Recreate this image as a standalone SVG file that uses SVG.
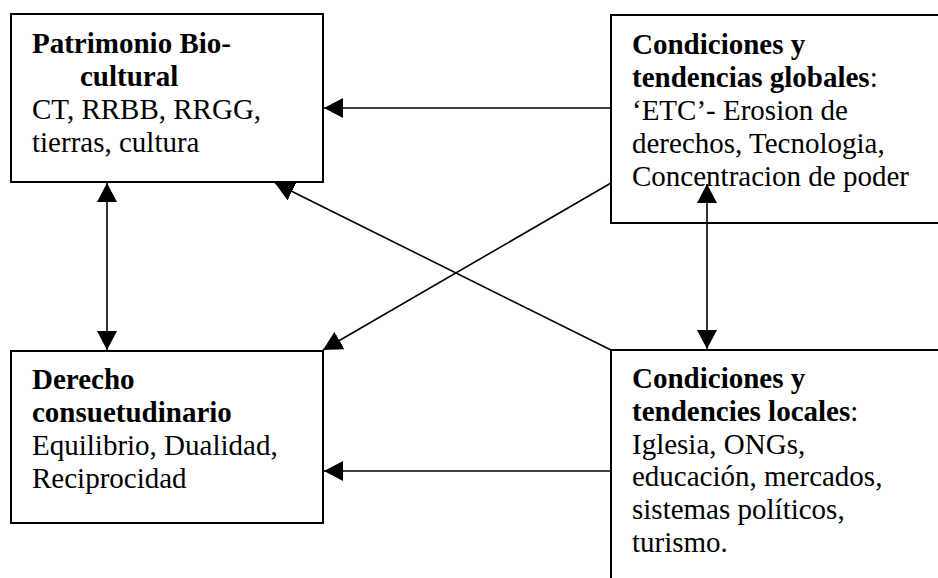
<svg xmlns="http://www.w3.org/2000/svg" width="938" height="578" viewBox="0 0 938 578">
<defs>
<style>
.box{fill:#fff;stroke:#000;stroke-width:2}
.t{font-family:"Liberation Serif","Times New Roman",serif;font-size:29px;fill:#000}
.b{font-weight:bold}
.c{stroke:#000;stroke-width:1.6;fill:none}
</style>
<marker id="ah" markerUnits="userSpaceOnUse" markerWidth="20" markerHeight="20" viewBox="0 0 20 20" refX="19" refY="10" orient="auto-start-reverse">
<path d="M0,0 L19,10 L0,20 Z" fill="#000"/>
</marker>
</defs>
<rect width="938" height="578" fill="#fff"/>
<g id="node-patrimonio">
<rect class="box" x="11" y="14" width="312" height="168"/>
<text class="t"><tspan class="b" x="32" y="53">Patrimonio Bio-</tspan><tspan class="b" x="80" y="86">cultural</tspan><tspan x="32" y="119">CT, RRBB, RRGG,</tspan><tspan x="32" y="152">tierras, cultura</tspan></text>
</g>
<g id="node-globales">
<rect class="box" x="611" y="15" width="340" height="208"/>
<text class="t"><tspan class="b" x="632" y="54">Condiciones y</tspan><tspan x="632" y="87"><tspan class="b">tendencias globales</tspan>:</tspan><tspan x="632" y="120">‘ETC’- Erosion de</tspan><tspan x="632" y="153">derechos, Tecnologia,</tspan><tspan x="632" y="186">Concentracion de poder</tspan></text>
</g>
<g id="node-derecho">
<rect class="box" x="11" y="351" width="312" height="172"/>
<text class="t"><tspan class="b" x="32" y="389">Derecho</tspan><tspan class="b" x="32" y="422">consuetudinario</tspan><tspan x="32" y="455">Equilibrio, Dualidad,</tspan><tspan x="32" y="488">Reciprocidad</tspan></text>
</g>
<g id="node-locales">
<rect class="box" x="611" y="350" width="340" height="250"/>
<text class="t"><tspan class="b" x="632" y="388">Condiciones y</tspan><tspan x="632" y="420.8"><tspan class="b">tendencies locales</tspan>:</tspan><tspan x="632" y="453.6">Iglesia, ONGs,</tspan><tspan x="632" y="486.4">educación, mercados,</tspan><tspan x="632" y="519.2">sistemas políticos,</tspan><tspan x="632" y="552">turismo.</tspan></text>
</g>
<g id="connectors">
<line class="c" x1="611" y1="108" x2="324" y2="108" marker-end="url(#ah)"/>
<line class="c" x1="611" y1="471" x2="324" y2="471" marker-end="url(#ah)"/>
<line class="c" x1="107" y1="183" x2="107" y2="350" marker-start="url(#ah)" marker-end="url(#ah)"/>
<line class="c" x1="707" y1="184" x2="707" y2="349" marker-start="url(#ah)" marker-end="url(#ah)"/>
<line class="c" x1="611" y1="183" x2="323" y2="350" marker-end="url(#ah)"/>
<line class="c" x1="611" y1="350" x2="275" y2="183" marker-end="url(#ah)"/>
</g>
</svg>
